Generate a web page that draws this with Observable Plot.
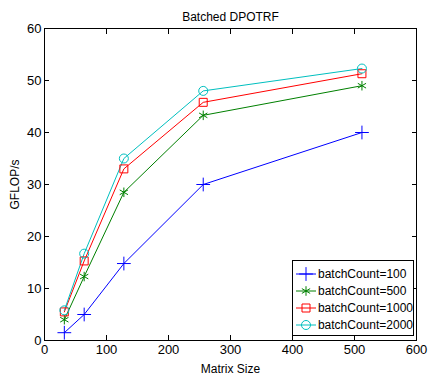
<!DOCTYPE html>
<html><head><meta charset="utf-8">
<script src="https://cdn.jsdelivr.net/npm/d3@7"></script>
<script src="https://cdn.jsdelivr.net/npm/@observablehq/plot@0.6"></script>
<style>
body{margin:0;background:#fff;font-family:"Liberation Sans",Arial,sans-serif;}
#wrap{position:relative;width:432px;height:376px;}
#legend{position:absolute;left:292px;top:260px;width:122px;height:76px;border:1px solid #000;background:#fff;box-sizing:border-box;font-size:12px;}
#legend .row{display:flex;align-items:center;height:17px;margin-left:2px;}
#legend .row:first-child{margin-top:4px;}
#legend svg{margin-right:1px;}
</style></head>
<body><div id="wrap"><div id="legend"></div></div>
<script>
const sizes = [32, 64, 128, 256, 512];
const seriesNames = ["batchCount=100", "batchCount=500", "batchCount=1000", "batchCount=2000"];
const gflops100 = [1.5, 5.0, 14.8, 30.0, 40.0];
const gflops500 = [4.0, 12.3, 28.5, 43.3, 49.0];
const gflops1000 = [5.5, 15.3, 33.0, 45.8, 51.3];
const gflops2000 = [5.8, 16.7, 35.0, 48.0, 52.3];
const colors = ["#0000ff", "#008000", "#ff0000", "#00bfbf"];
const symbols = ["plus", "asterisk", "square", "circle"];
const xTicks = [0, 100, 200, 300, 400, 500, 600];
const yTicks = [0, 10, 20, 30, 40, 50, 60];

const all = [gflops100, gflops500, gflops1000, gflops2000];
const data = all.flatMap((vals, i) => vals.map((v, j) => ({size: sizes[j], g: v, s: seriesNames[i]})));

const chart = Plot.plot({
  width: 432, height: 376,
  marginLeft: 44, marginRight: 16, marginTop: 28, marginBottom: 36,
  style: {fontFamily: "Liberation Sans, Arial, sans-serif", fontSize: "12px", color: "#000", background: "#fff"},
  x: {domain: [0, 600]},
  y: {domain: [0, 60]},
  color: {domain: seriesNames, range: colors},
  symbol: {domain: seriesNames, range: symbols},
  marks: [
    Plot.frame({stroke: "#000"}),
    Plot.axisX(xTicks, {anchor: "bottom", tickSize: -5, tickPadding: 9, label: null, fontSize: 13}),
    Plot.axisX({anchor: "bottom", ticks: [], label: "Matrix Size", labelAnchor: "center", labelArrow: "none", labelOffset: 32, fontSize: 12}),
    Plot.axisX(xTicks, {anchor: "top", tickSize: -5, tickFormat: () => "", label: null}),
    Plot.axisY(yTicks, {anchor: "left", tickSize: -5, tickPadding: 8, label: null, fontSize: 13}),
    Plot.axisY({anchor: "left", ticks: [], label: "GFLOP/s", labelAnchor: "center", labelArrow: "none", labelOffset: 34, fontSize: 12}),
    Plot.axisY(yTicks, {anchor: "right", tickSize: -5, tickFormat: () => "", label: null}),
    Plot.line(data, {x: "size", y: "g", z: "s", stroke: "s", strokeWidth: 1}),
    Plot.dot(data, {x: "size", y: "g", symbol: "s", stroke: "s", fill: "none", r: 4.5, strokeWidth: 1}),
    Plot.text(["Batched DPOTRF"], {frameAnchor: "top", dy: -16, fontSize: 12, fill: "#000"})
  ]
});
document.getElementById("wrap").prepend(chart);

const leg = document.getElementById("legend");
const symMap = {plus: d3.symbolPlus, asterisk: d3.symbolAsterisk, square: d3.symbolSquare, circle: d3.symbolCircle};
seriesNames.forEach((n, i) => {
  const row = document.createElement("div");
  row.className = "row";
  const path = d3.symbol(symMap[symbols[i]], 64)();
  row.innerHTML = `<svg width="22" height="14"><line x1="1" x2="21" y1="7" y2="7" stroke="${colors[i]}"/><path d="${path}" transform="translate(11,7)" fill="none" stroke="${colors[i]}"/></svg><span>${n}</span>`;
  leg.appendChild(row);
});
</script></body></html>
